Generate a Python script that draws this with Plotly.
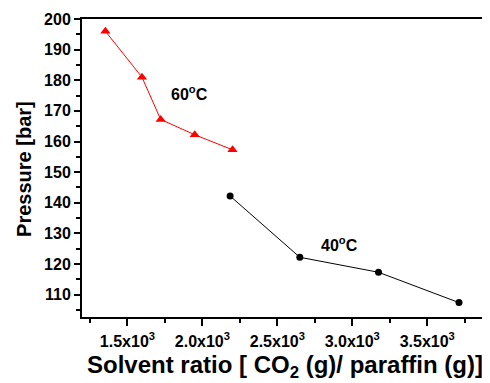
import plotly.graph_objects as go

x_60 = [1353, 1597, 1722, 1949, 2201]
p_60 = [196, 181, 167.2, 162.2, 157.3]
x_40 = [2185, 2650, 3175, 3712]
p_40 = [142.2, 122.2, 117.3, 107.4]

x_tickvals = [1500, 2000, 2500, 3000, 3500]
x_ticktext = ["<b>1.5x10<sup>3</sup></b>", "<b>2.0x10<sup>3</sup></b>", "<b>2.5x10<sup>3</sup></b>",
              "<b>3.0x10<sup>3</sup></b>", "<b>3.5x10<sup>3</sup></b>"]
y_tickvals = [110, 120, 130, 140, 150, 160, 170, 180, 190, 200]
y_ticktext = ["<b>%d</b>" % v for v in y_tickvals]

FONT = "Liberation Sans, Arial, sans-serif"

fig = go.Figure()
fig.add_trace(go.Scatter(x=x_60, y=p_60, mode="lines+markers",
                         line=dict(color="#ff0000", width=1),
                         marker=dict(symbol="triangle-up", size=9, color="#ff0000"),
                         showlegend=False))
fig.add_trace(go.Scatter(x=x_40, y=p_40, mode="lines+markers",
                         line=dict(color="#000000", width=1),
                         marker=dict(symbol="circle", size=7, color="#000000"),
                         showlegend=False))

fig.add_annotation(x=1916, y=176, text="<b>60<sup>o</sup>C</b>", showarrow=False,
                   font=dict(family=FONT, size=16, color="black"))
fig.add_annotation(x=2918, y=126.5, text="<b>40<sup>o</sup>C</b>", showarrow=False,
                   font=dict(family=FONT, size=16, color="black"))

# axis titles placed in paper coordinates
fig.add_annotation(xref="paper", yref="paper", x=0.502, y=-0.167, yanchor="middle",
                   text="<b>Solvent ratio [ CO<sub>2</sub> (g)/ paraffin (g)]</b>",
                   showarrow=False, font=dict(family=FONT, size=24, color="black"))
fig.add_annotation(xref="paper", yref="paper", x=-0.1436, y=0.497, xanchor="center",
                   yanchor="middle", textangle=-90,
                   text="<b>Pressure [bar]</b>",
                   showarrow=False, font=dict(family=FONT, size=20, color="black"))

fig.update_xaxes(range=[1197, 3892], tickvals=x_tickvals, ticktext=x_ticktext,
                 ticks="outside", ticklen=7, tickwidth=1.5, tickcolor="black",
                 minor=dict(dtick=250, tick0=1250, ticks="outside", ticklen=4, tickwidth=1.5, tickcolor="black"),
                 showline=True, linewidth=2, linecolor="black", mirror=True,
                 showgrid=False, zeroline=False, automargin=False, ticklabelstandoff=2,
                 tickfont=dict(family=FONT, size=16, color="black"))
fig.update_yaxes(range=[102.7, 200], tickvals=y_tickvals, ticktext=y_ticktext,
                 ticks="outside", ticklen=6, tickwidth=1.5, tickcolor="black",
                 minor=dict(dtick=5, tick0=105, ticks="outside", ticklen=4, tickwidth=1.5, tickcolor="black"),
                 showline=True, linewidth=2, linecolor="black", mirror=True,
                 showgrid=False, zeroline=False, automargin=False,
                 tickfont=dict(family=FONT, size=16, color="black"))

# page body has an 8px default margin, so the figure is sized/offset to compensate
fig.update_layout(width=482, height=375, margin=dict(l=74, r=4, t=11, b=66),
                  plot_bgcolor="white", paper_bgcolor="white")
fig.write_html("out.html")
